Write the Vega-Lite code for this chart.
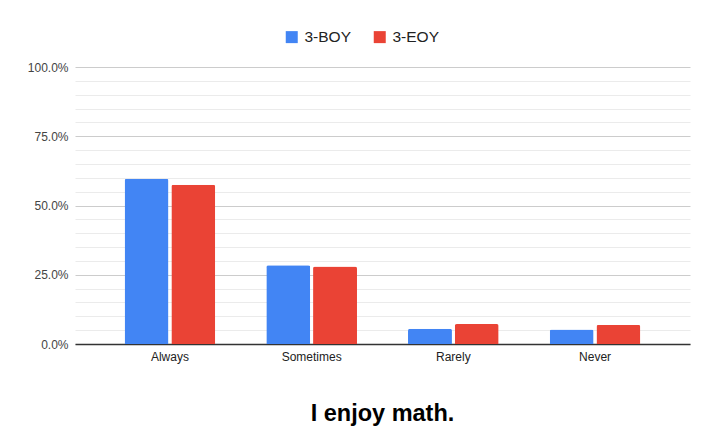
{
  "$schema": "https://vega.github.io/schema/vega-lite/v6.json",
  "width": 615,
  "height": 277,
  "autosize": {"type": "none"},
  "padding": {"left": 75, "top": 67, "right": 16, "bottom": 102},
  "background": "white",
  "config": {"view": {"stroke": null}, "font": "Liberation Sans"},
  "title": {"text": "I enjoy math.", "orient": "bottom", "anchor": "middle", "font": "Liberation Sans", "fontSize": 23.5, "fontWeight": "bold", "color": "#000000", "offset": 40},
  "data": {"values": [
    {"cat": "Always", "series": "3-BOY", "v": 0.597},
    {"cat": "Always", "series": "3-EOY", "v": 0.575},
    {"cat": "Sometimes", "series": "3-BOY", "v": 0.284},
    {"cat": "Sometimes", "series": "3-EOY", "v": 0.280},
    {"cat": "Rarely", "series": "3-BOY", "v": 0.055},
    {"cat": "Rarely", "series": "3-EOY", "v": 0.072},
    {"cat": "Never", "series": "3-BOY", "v": 0.052},
    {"cat": "Never", "series": "3-EOY", "v": 0.069}
  ]},
  "mark": {"type": "bar", "cornerRadiusTopLeft": 2, "cornerRadiusTopRight": 2},
  "encoding": {
    "x": {"field": "cat", "type": "nominal", "sort": ["Always", "Sometimes", "Rarely", "Never"],
      "scale": {"paddingInner": 0.36, "paddingOuter": 0.35},
      "axis": {"title": null, "labelAngle": 0, "ticks": false, "domainColor": "#333333", "domainWidth": 1.5, "labelColor": "#222222", "labelFont": "Liberation Sans", "labelFontSize": 12, "labelPadding": 7}},
    "xOffset": {"field": "series", "type": "nominal", "scale": {"paddingInner": 0.06}},
    "y": {"field": "v", "type": "quantitative", "scale": {"domain": [0, 1], "nice": false},
      "axis": {"title": null, "values": [0,0.05,0.1,0.15,0.2,0.25,0.3,0.35,0.4,0.45,0.5,0.55,0.6,0.65,0.7,0.75,0.8,0.85,0.9,0.95,1.0],
        "labelExpr": "round(datum.value*100) % 25 == 0 ? format(datum.value, '.1%') : ''",
        "ticks": false, "domain": false, "labelColor": "#444444", "labelFont": "Liberation Sans", "labelFontSize": 12, "labelPadding": 7,
        "gridColor": {"condition": {"test": "round(datum.value*100) % 25 == 0", "value": "#cccccc"}, "value": "#ebebeb"}}},
    "color": {"field": "series", "type": "nominal",
      "scale": {"domain": ["3-BOY", "3-EOY"], "range": ["#4285F4", "#EA4335"]},
      "legend": {"title": null, "orient": "none", "direction": "horizontal", "legendX": 209, "legendY": -38, "symbolType": "square", "symbolSize": 144, "symbolStrokeWidth": 0, "labelFont": "Liberation Sans", "labelFontSize": 15.5, "labelColor": "#222222", "columnPadding": 20, "labelOffset": 5}}
  }
}
